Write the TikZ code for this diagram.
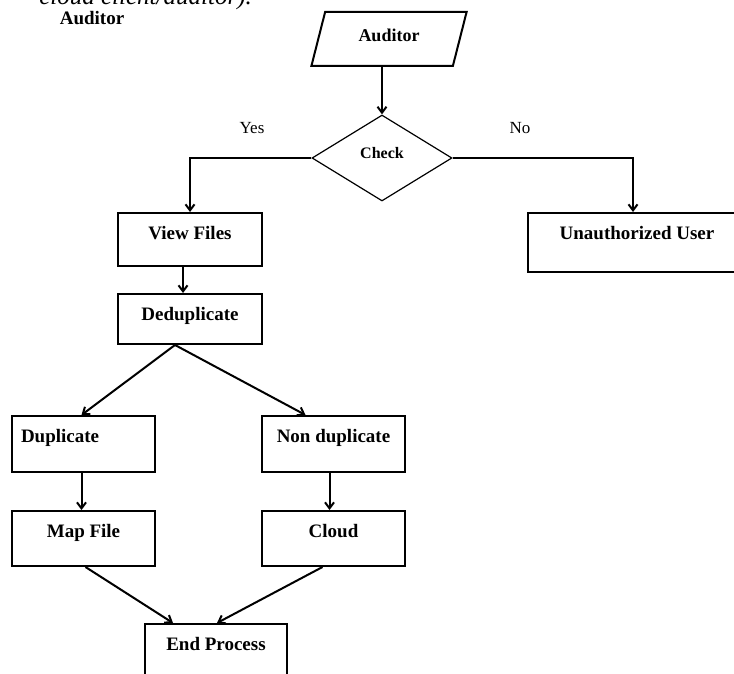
\documentclass[tikz,border=0pt]{standalone}
\usepackage{fontspec}
\setmainfont{Liberation Serif}
\usetikzlibrary{shapes.geometric,arrows.meta}

\begin{document}
\begin{tikzpicture}[x=1pt, y=-1pt, line width=2pt,
  >={Straight Barb[length=6pt,width=9pt]},
  procbox/.style={draw, rectangle, anchor=north, minimum width=143pt,
    inner ysep=4pt, text height=22pt, text depth=26pt,
    font=\fontsize{19}{21}\selectfont\bfseries},
  decision/.style={draw, diamond, line width=1.2pt, minimum width=140pt,
    minimum height=86pt, inner sep=0pt, text depth=10pt,
    font=\fontsize{16}{18}\selectfont\bfseries},
  inputbox/.style={draw, trapezium, trapezium left angle=75,
    trapezium right angle=105, trapezium stretches=true,
    minimum width=156pt, minimum height=54pt, text depth=8pt,
    font=\fontsize{18}{20}\selectfont\bfseries},
  answer/.style={font=\fontsize{17}{19}\selectfont}]

\useasboundingbox (0,0) rectangle (734,674);

\node[anchor=base west, font=\fontsize{25}{27}\selectfont\itshape] (cap) at (35,5) {cloud client/auditor).};
\node[font=\fontsize{19}{21}\selectfont\bfseries] (role) at (92,18) {Auditor};

\node[inputbox] (aud) at (389,39) {Auditor};
\node[decision] (check) at (382,158) {Check};

\node[answer] (yes) at (252,128) {Yes};
\node[answer] (no) at (520,128) {No};

\node[procbox, minimum width=144pt, text depth=23pt] (view) at (190,212) {View Files};
\node[procbox, minimum width=218pt, text depth=29pt] (unauth) at (637,212) {Unauthorized User};
\node[procbox, minimum width=144pt, text depth=20pt] (dedup) at (190,293) {Deduplicate};

\node[procbox, inner xsep=9pt, text width=125pt, align=left] (dup) at (83.5,415) {Duplicate};
\node[procbox] (nondup) at (333.5,415) {Non duplicate};
\node[procbox, text depth=25pt] (map) at (83.5,510) {Map File};
\node[procbox, text depth=25pt] (cloud) at (333.5,510) {Cloud};
\node[procbox, minimum width=142pt, text depth=60pt] (endp) at (216,623) {End Process};

\draw[->] (check.north |- aud.south) -- (check.north);
\draw[->] (check.west) -| (view.north);
\draw[->] (check.east) -| ([xshift=-4pt]unauth.north);
\draw[->] ([xshift=-7pt]view.south) -- ([xshift=-7pt]dedup.north);
\draw[->] ([xshift=-15pt]dedup.south) -- ([xshift=-2pt]dup.north);
\draw[->] ([xshift=-15pt]dedup.south) -- ([xshift=-28pt]nondup.north);
\draw[->] ([xshift=-2pt]dup.south) -- ([xshift=-2pt]map.north);
\draw[->] ([xshift=-4pt]nondup.south) -- ([xshift=-4pt]cloud.north);
\draw[->] ([xshift=2pt]map.south) -- ([xshift=-43pt]endp.north);
\draw[->] ([xshift=-11pt]cloud.south) -- ([xshift=1pt]endp.north);

\end{tikzpicture}
\end{document}
